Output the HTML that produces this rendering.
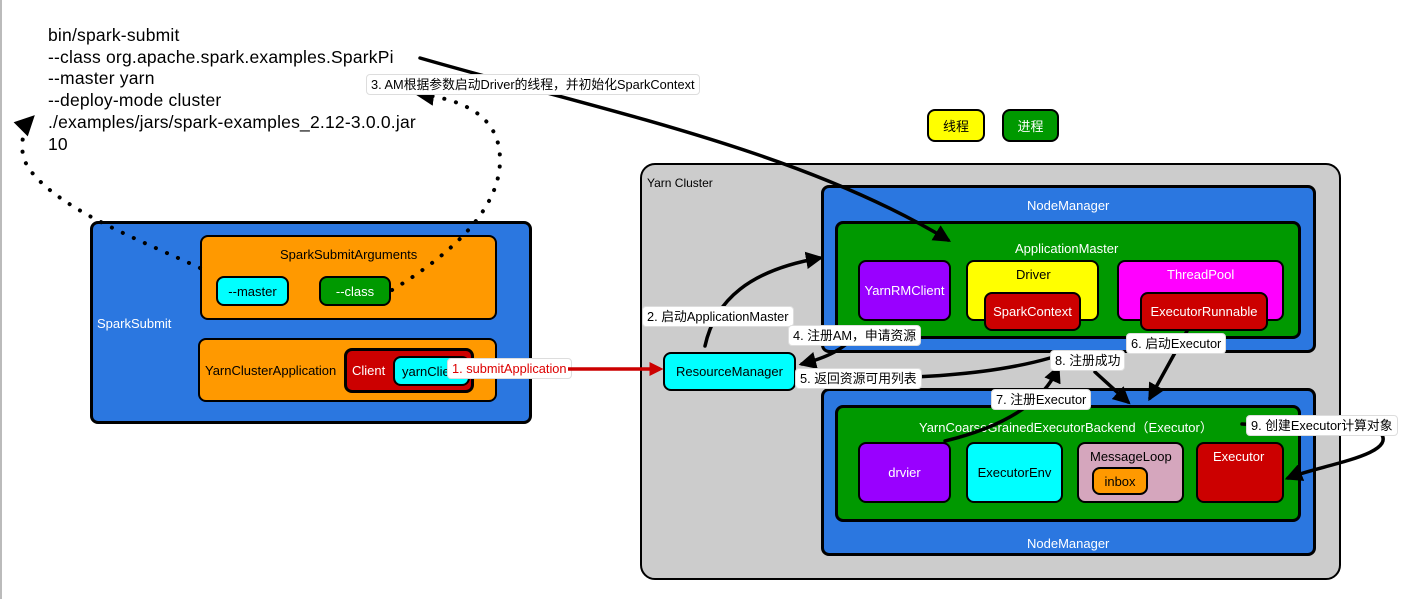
<!DOCTYPE html>
<html><head><meta charset="utf-8"><style>
body{margin:0;width:1413px;height:599px;background:#fff;position:relative;overflow:hidden;font-family:"Liberation Sans","Noto Sans CJK SC",sans-serif;}
.b{position:absolute;box-sizing:border-box;border:3px solid #000;border-radius:8px;}
.t{position:absolute;font-size:13px;white-space:nowrap;}
.c{display:flex;align-items:center;justify-content:center;}
.lb{position:absolute;background:#fff;border:1px solid #ddd;border-radius:4px;font-size:12.8px;padding:0 4px;box-sizing:border-box;height:21px;line-height:20px;white-space:nowrap;}
svg{position:absolute;left:0;top:0;}
</style></head><body>
<div style="position:absolute;left:0;top:0;width:2px;height:599px;background:#bbb"></div>
<div class="t" style="left:48px;top:25px;font-size:17.5px;line-height:21.7px;letter-spacing:0.2px">bin/spark-submit<br>--class org.apache.spark.examples.SparkPi<br>--master yarn<br>--deploy-mode cluster<br>./examples/jars/spark-examples_2.12-3.0.0.jar<br>10</div>

<div class="b c" style="left:927px;top:109px;width:58px;height:33px;background:#ff0;border-width:2px;font-size:13px">线程</div>
<div class="b c" style="left:1002px;top:109px;width:57px;height:33px;background:#090;border-width:2px;color:#fff;font-size:13px">进程</div>

<div class="b" style="left:90px;top:221px;width:442px;height:203px;background:#2b77e0"></div>
<div class="t" style="left:97px;top:316px;color:#fff">SparkSubmit</div>
<div class="b" style="left:200px;top:235px;width:297px;height:85px;background:#f90;border-width:2px"></div>
<div class="t" style="left:280px;top:247px">SparkSubmitArguments</div>
<div class="b c" style="left:216px;top:276px;width:73px;height:30px;background:#0ff;border-width:2px;font-size:13px">--master</div>
<div class="b c" style="left:319px;top:276px;width:72px;height:30px;background:#090;border-width:2px;color:#fff;font-size:13px">--class</div>
<div class="b" style="left:198px;top:338px;width:299px;height:64px;background:#f90;border-width:2px"></div>
<div class="t" style="left:205px;top:363px">YarnClusterApplication</div>
<div class="b" style="left:344px;top:348px;width:130px;height:45px;background:#c00"></div>
<div class="t" style="left:352px;top:363px;color:#fff">Client</div>
<div class="b" style="left:393px;top:356px;width:77px;height:30px;background:#0ff;border-width:2px;overflow:hidden"><span class="t" style="left:7px;top:6px">yarnClient</span></div>
<div class="lb" style="left:447px;top:358px;color:#d00">1. submitApplication</div>

<div class="b" style="left:640px;top:163px;width:701px;height:417px;background:#ccc;border-width:2px;border-radius:15px"></div>
<div class="t" style="left:647px;top:176px;font-size:12px">Yarn Cluster</div>

<div class="b" style="left:821px;top:185px;width:495px;height:168px;background:#2b77e0"></div>
<div class="t" style="left:1027px;top:198px;color:#fff">NodeManager</div>
<div class="b" style="left:835px;top:221px;width:466px;height:118px;background:#090"></div>
<div class="t" style="left:1015px;top:241px;color:#fff">ApplicationMaster</div>
<div class="b c" style="left:858px;top:260px;width:93px;height:61px;background:#90f;border-width:2px;color:#fff;font-size:13px">YarnRMClient</div>
<div class="b" style="left:966px;top:260px;width:133px;height:61px;background:#ff0;border-width:2px"></div>
<div class="t" style="left:1016px;top:267px">Driver</div>
<div class="b c" style="left:984px;top:292px;width:97px;height:39px;background:#c00;border-width:2px;color:#fff;font-size:13px">SparkContext</div>
<div class="b" style="left:1117px;top:260px;width:167px;height:61px;background:#f0f;border-width:2px"></div>
<div class="t" style="left:1167px;top:267px;color:#fff">ThreadPool</div>
<div class="b c" style="left:1140px;top:292px;width:128px;height:39px;background:#c00;border-width:2px;color:#fff;font-size:13px">ExecutorRunnable</div>

<div class="b c" style="left:663px;top:352px;width:133px;height:39px;background:#0ff;border-width:2px;font-size:13px">ResourceManager</div>

<div class="b" style="left:821px;top:388px;width:495px;height:168px;background:#2b77e0"></div>
<div class="t" style="left:1027px;top:536px;color:#fff">NodeManager</div>
<div class="b" style="left:835px;top:405px;width:466px;height:117px;background:#090"></div>
<div class="t" style="left:919px;top:417px;color:#fff">YarnCoarseGrainedExecutorBackend（Executor）</div>
<div class="b c" style="left:858px;top:442px;width:93px;height:61px;background:#90f;border-width:2px;color:#fff;font-size:13px">drvier</div>
<div class="b c" style="left:966px;top:442px;width:97px;height:61px;background:#0ff;border-width:2px;font-size:13px">ExecutorEnv</div>
<div class="b" style="left:1077px;top:442px;width:107px;height:61px;background:#d5a6bd;border-width:2px"></div>
<div class="t" style="left:1090px;top:449px">MessageLoop</div>
<div class="b c" style="left:1092px;top:467px;width:56px;height:28px;background:#f90;border-width:2px;font-size:13px">inbox</div>
<div class="b" style="left:1196px;top:442px;width:88px;height:61px;background:#c00;border-width:2px"></div>
<div class="t" style="left:1213px;top:449px;color:#fff">Executor</div>

<svg width="1413" height="599">
<defs><marker id="a" markerWidth="5" markerHeight="5" refX="4" refY="2.5" orient="auto" markerUnits="strokeWidth"><path d="M0,0 L5,2.5 L0,5 z" fill="#000"/></marker>
<marker id="r" markerWidth="4" markerHeight="4" refX="3" refY="2" orient="auto" markerUnits="strokeWidth"><path d="M0,0 L4,2 L0,4 z" fill="#c00"/></marker></defs>
<g fill="none" stroke="#000" stroke-width="3.5" stroke-linecap="round">
<path d="M200,268 C140,240 60,210 30,170 C15,150 25,125 32,118" stroke-dasharray="0.1 12" marker-end="url(#a)" stroke-width="4"/>
<path d="M392,290 C450,255 500,210 500,160 C500,120 470,100 418,94" stroke-dasharray="0.1 12" marker-end="url(#a)" stroke-width="4"/>
<path d="M420,58 C600,110 800,150 948,240" marker-end="url(#a)"/>
<path d="M705,346 C715,300 750,270 820,258" marker-end="url(#a)"/>
<path d="M860,330 C845,350 825,358 802,364" marker-end="url(#a)"/>
<path d="M800,380 C900,378 980,378 1050,358"/>
<path d="M1187,331 L1150,398" marker-end="url(#a)"/>
<path d="M1095,372 L1128,402" marker-end="url(#a)"/>
<path d="M945,441 C990,430 1040,410 1058,368" marker-end="url(#a)"/>
<path d="M1242,424 L1380,432 C1400,455 1320,465 1288,478" marker-end="url(#a)"/>
</g>
<path d="M568,369 L660,369" stroke="#c00" stroke-width="3.5" marker-end="url(#r)"/>
</svg>

<div class="lb" style="left:366px;top:74px">3. AM根据参数启动Driver的线程，并初始化SparkContext</div>
<div class="lb" style="left:642px;top:306px">2. 启动ApplicationMaster</div>
<div class="lb" style="left:788px;top:325px">4. 注册AM，申请资源</div>
<div class="lb" style="left:795px;top:368px">5. 返回资源可用列表</div>
<div class="lb" style="left:1126px;top:333px">6. 启动Executor</div>
<div class="lb" style="left:1050px;top:350px">8. 注册成功</div>
<div class="lb" style="left:991px;top:389px">7. 注册Executor</div>
<div class="lb" style="left:1246px;top:415px">9. 创建Executor计算对象</div>
</body></html>
